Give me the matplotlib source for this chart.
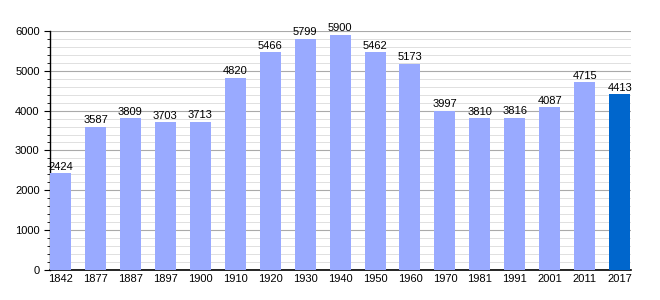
import matplotlib.pyplot as plt
from matplotlib.ticker import MultipleLocator

plt.rcParams["font.family"] = ["Liberation Sans", "DejaVu Sans"]

years = ["1842", "1877", "1887", "1897", "1900", "1910", "1920", "1930", "1940",
         "1950", "1960", "1970", "1981", "1991", "2001", "2011", "2017"]
population = [2424, 3587, 3809, 3703, 3713, 4820, 5466, 5799, 5900,
              5462, 5173, 3997, 3810, 3816, 4087, 4715, 4413]

colors = ["#99aaff"] * (len(years) - 1) + ["#0066cc"]
pos = list(range(len(years)))

fig = plt.figure(figsize=(6.6, 3.0), dpi=100)
ax = fig.add_axes([0.0758, 0.1, 0.88, 0.797])

bw = 0.6
ax.bar(pos, population, width=bw, align="edge", color=colors, zorder=3)

# value labels above each bar
for p, v in zip(pos, population):
    ax.text(p + bw / 2, v + 40, str(v), ha="center", va="bottom",
            fontsize=8, color="black", zorder=4)

ax.set_xlim(0, len(years) - 1 + 0.62)
ax.set_ylim(0, 6000)
ax.set_xticks([p + bw / 2 for p in pos])
ax.set_xticklabels(years, fontsize=8)
ax.yaxis.set_major_locator(MultipleLocator(1000))
ax.yaxis.set_minor_locator(MultipleLocator(200))
ax.tick_params(axis="y", labelsize=8, length=4, width=0.8)
ax.tick_params(axis="y", which="minor", length=2.5, width=0.6)
ax.tick_params(axis="x", length=0, pad=3)

ax.grid(axis="y", which="major", color="#aaaaaa", linewidth=0.8, zorder=0)
ax.grid(axis="y", which="minor", color="#e0e0e0", linewidth=0.7, zorder=0)
ax.set_axisbelow(True)

for s in ["top", "right"]:
    ax.spines[s].set_visible(False)
ax.spines["left"].set_linewidth(1.0)
ax.spines["bottom"].set_linewidth(1.2)

fig.savefig("out.png", dpi=100)
